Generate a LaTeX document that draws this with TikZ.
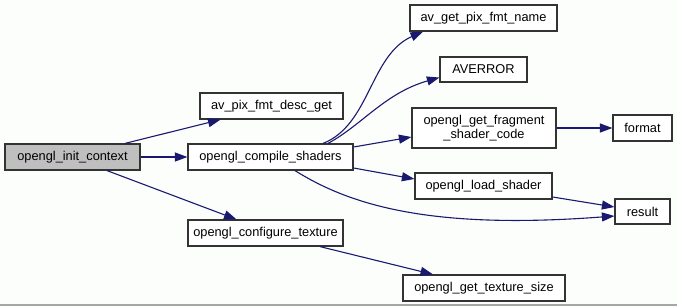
\documentclass[tikz,border=0pt]{standalone}
\usepackage{fontspec}
\setmainfont{Liberation Sans}
\usetikzlibrary{arrows.meta,calc}
\definecolor{edgeblue}{HTML}{191970}
\definecolor{pagebg}{HTML}{FCFEFC}
\definecolor{rootfill}{HTML}{BFBFBF}
\begin{document}
\begin{tikzpicture}[x=1bp,y=-1bp,
  fn/.style={draw=black!80,line width=1.2bp,fill=white,inner sep=0pt,
    font=\fontsize{12.8bp}{14bp}\selectfont,align=center},
  root/.style={fn,fill=rootfill},
  call/.style={draw=edgeblue,line width=1.1bp,-{Triangle[length=12.5bp,width=9bp]}}]
  % page background and bottom rule
  \fill[pagebg] (0,0) rectangle (677,307);
  \useasboundingbox (0,0) rectangle (677,307);
  \draw[black!35,line width=1.5bp] (0,305) -- (677,305);

  % functions
  \node[root,minimum width=135bp,minimum height=26bp] (init) at (72.5,157) {opengl\_init\_context};
  \node[fn,minimum width=143bp,minimum height=26bp] (desc) at (271.5,106) {av\_pix\_fmt\_desc\_get};
  \node[fn,minimum width=165bp,minimum height=26bp] (compile) at (270.5,157) {opengl\_compile\_shaders};
  \node[fn,minimum width=155bp,minimum height=26bp] (config) at (265.5,233) {opengl\_configure\_texture};
  \node[fn,minimum width=147bp,minimum height=26bp] (name) at (483.5,18) {av\_get\_pix\_fmt\_name};
  \node[fn,minimum width=87bp,minimum height=25bp] (averror) at (483.5,69.5) {AVERROR};
  \node[fn,minimum width=144bp,minimum height=40bp] (frag) at (484,128) {opengl\_get\_fragment\\\_shader\_code};
  \node[fn,minimum width=59bp,minimum height=26bp] (format) at (642.5,128) {format};
  \node[fn,minimum width=137bp,minimum height=26bp] (load) at (483.5,186) {opengl\_load\_shader};
  \node[fn,minimum width=55bp,minimum height=25bp] (result) at (642.5,211.5) {result};
  \node[fn,minimum width=162bp,minimum height=26bp] (texsize) at (484,288) {opengl\_get\_texture\_size};

  % calls
  \draw[call] ($(init.north)+(52.5,0)$) -- ($(desc.south)+(-51,0)$);
  \draw[call] (init.east) -- (compile.west);
  \draw[call] ($(init.south)+(34.5,0)$) -- ($(config.north)+(-29,0)$);
  \draw[call] ($(compile.north)+(52.5,0)$) .. controls (370,125) and (370,55) .. ($(name.south)+(-60.5,0)$);
  \draw[call] ($(compile.north)+(57.5,0)$) .. controls (362,125) and (385,93) .. ($(averror.west)+(0,8)$);
  \draw[call] ($(compile.east)+(0,-10)$) -- ($(frag.west)+(0,9)$);
  \draw[call] ($(compile.east)+(0,11)$) -- ($(load.west)+(0,-7)$);
  \draw[call] ($(compile.south)+(24.5,0)$) .. controls (350,205) and (430,230) .. ($(result.west)+(0,4.5)$);
  \draw[call] (frag.east) -- (format.west);
  \draw[call] ($(load.east)+(0,11)$) -- ($(result.west)+(0,-4.5)$);
  \draw[call] ($(config.south)+(54.5,0)$) -- ($(texsize.north)+(-51,0)$);
\end{tikzpicture}
\end{document}
